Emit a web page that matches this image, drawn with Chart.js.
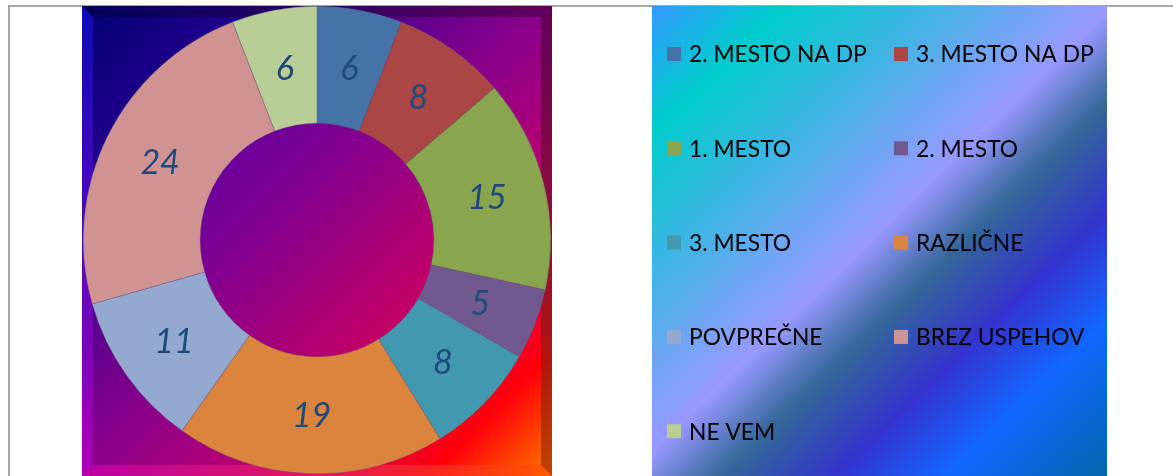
<!DOCTYPE html>
<html>
<head>
<meta charset="utf-8">
<script src="https://cdn.jsdelivr.net/npm/chart.js@4/dist/chart.umd.min.js"></script>
<style>
	body { margin: 0; background: #ffffff; }
	#outline { position: absolute; left: 8px; top: 5px; width: 1180px; height: 480px; box-sizing: border-box;
		border-left: 2px solid #a6a6a6; border-top: 2px solid #a6a6a6; }
	#ranking_chart { position: absolute; left: 0; top: 0; }
</style>
</head>
<body>
<div id="outline"></div>
<canvas id="ranking_chart" width="1173" height="476"></canvas>
<script>
const categories = ['2. MESTO NA DP', '3. MESTO NA DP', '1. MESTO', '2. MESTO', '3. MESTO', 'RAZLIČNE', 'POVPREČNE', 'BREZ USPEHOV', 'NE VEM'];
const answers = [6, 8, 15, 5, 8, 19, 11, 24, 6];
const slice_colors = ['#4572A7', '#AA4643', '#89A54E', '#71588F', '#4198AF', '#DB843D', '#93A9CF', '#D19392', '#B9CD96'];

const LEGEND_BOX = {left: 652, top: 6, right: 1107, bottom: 476};

function drawPlotFrame(chart){
	/*
	Paints the bevelled gradient panel behind the doughnut.
	:param: chart.
	:return: None.
	*/
	const ctx = chart.ctx;
	const a = chart.chartArea;
	var x0 = a.left, y0 = a.top, x1 = a.right, y1 = chart.height;
	var bw = 11;

	ctx.save();
	var g = ctx.createLinearGradient(x0, y0, x1, y1);
	g.addColorStop(0, '#00006e');
	g.addColorStop(0.2, '#240090');
	g.addColorStop(0.5, '#8c008a');
	g.addColorStop(0.72, '#c80068');
	g.addColorStop(0.87, '#ff0008');
	g.addColorStop(1, '#ff7a00');
	ctx.fillStyle = g;
	ctx.fillRect(x0, y0, x1 - x0, y1 - y0);

	// bevel edges
	var edges = [
		{pts: [[x0, y0], [x1, y0], [x1 - bw, y0 + bw], [x0 + bw, y0 + bw]], c0: '#00004c', c1: '#4c0046', dir: 'h'},
		{pts: [[x0, y0], [x0 + bw, y0 + bw], [x0 + bw, y1 - bw], [x0, y1]], c0: '#1212d6', c1: '#c000cc', dir: 'v'},
		{pts: [[x1, y0], [x1, y1], [x1 - bw, y1 - bw], [x1 - bw, y0 + bw]], c0: '#4a0040', c1: '#9a2a00', dir: 'v'},
		{pts: [[x0, y1], [x0 + bw, y1 - bw], [x1 - bw, y1 - bw], [x1, y1]], c0: '#d400b4', c1: '#ff4a00', dir: 'h'}
	];
	for (const e of edges) {
		var eg = e.dir == 'h' ? ctx.createLinearGradient(x0, 0, x1, 0) : ctx.createLinearGradient(0, y0, 0, y1);
		eg.addColorStop(0, e.c0);
		eg.addColorStop(1, e.c1);
		ctx.beginPath();
		ctx.moveTo(e.pts[0][0], e.pts[0][1]);
		for (var i = 1; i < e.pts.length; i++) ctx.lineTo(e.pts[i][0], e.pts[i][1]);
		ctx.closePath();
		ctx.globalAlpha = 0.65;
		ctx.fillStyle = eg;
		ctx.fill();
	}
	ctx.restore();
}

function drawHole(chart){
	/*
	Fills the doughnut hole with its own gradient.
	:param: chart.
	:return: None.
	*/
	const arc = chart.getDatasetMeta(0).data[0];
	if (!arc) return;
	const ctx = chart.ctx;
	var r = arc.innerRadius;
	ctx.save();
	var g = ctx.createLinearGradient(arc.x - r, arc.y - r, arc.x + r, arc.y + r);
	g.addColorStop(0, '#5a00a4');
	g.addColorStop(0.5, '#940084');
	g.addColorStop(1, '#d8005a');
	ctx.fillStyle = g;
	ctx.beginPath();
	ctx.arc(arc.x, arc.y, r + 1, 0, Math.PI * 2);
	ctx.fill();
	ctx.restore();
}

function drawValueLabels(chart){
	/*
	Writes each slice value in the middle of its ring segment.
	:param: chart.
	:return: None.
	*/
	const ctx = chart.ctx;
	const meta = chart.getDatasetMeta(0);
	ctx.save();
	ctx.font = 'italic 34px Lato, "DejaVu Sans", sans-serif';
	ctx.fillStyle = '#1F497D';
	ctx.textAlign = 'center';
	ctx.textBaseline = 'middle';
	meta.data.forEach(function(arc, index){
		const pos = arc.getCenterPoint();
		ctx.fillText(String(chart.data.datasets[0].data[index]), pos.x, pos.y + 1);
	});
	ctx.restore();
}

function drawLegendPanel(chart){
	/*
	Draws the gradient legend panel with two columns of entries.
	:param: chart.
	:return: None.
	*/
	const ctx = chart.ctx;
	var b = LEGEND_BOX;
	ctx.save();
	var g = ctx.createLinearGradient(b.left, b.top, b.right, b.bottom);
	g.addColorStop(0, '#3399ff');
	g.addColorStop(0.14, '#00cccc');
	g.addColorStop(0.3, '#40b4e4');
	g.addColorStop(0.49, '#9999ff');
	g.addColorStop(0.59, '#336699');
	g.addColorStop(0.71, '#3333cc');
	g.addColorStop(0.83, '#1166ff');
	g.addColorStop(1, '#0066aa');
	ctx.fillStyle = g;
	ctx.fillRect(b.left, b.top, b.right - b.left, b.bottom - b.top);

	var col_x = [667, 894];
	var row_y = 54, row_step = 94.3, box = 14;
	ctx.font = '22.8px Lato, "DejaVu Sans", sans-serif';
	ctx.textBaseline = 'middle';
	ctx.textAlign = 'left';
	const labels = chart.data.labels;
	for (var i = 0; i < labels.length; i++) {
		var x = col_x[i % 2];
		var y = row_y + Math.floor(i / 2) * row_step;
		ctx.fillStyle = chart.data.datasets[0].backgroundColor[i];
		ctx.fillRect(x, y - box / 2, box, box);
		ctx.fillStyle = '#000000';
		ctx.fillText(labels[i], x + 22, y + 1);
	}
	ctx.restore();
}

const panelPlugin = {
	id: 'panels',
	beforeDraw: drawPlotFrame,
	beforeDatasetsDraw: drawHole,
	afterDatasetsDraw: drawValueLabels,
	afterDraw: drawLegendPanel
};

const ctx = document.getElementById('ranking_chart').getContext('2d');
const ranking_chart = new Chart(ctx, {
	type: 'doughnut',
	data: {
		labels: categories,
		datasets: [{
			data: answers,
			backgroundColor: slice_colors,
			borderColor: 'rgba(90, 90, 120, 0.55)',
			borderWidth: 0.6,
			hoverOffset: 0
		}]
	},
	options: {
		responsive: false,
		animation: false,
		cutout: '50%',
		layout: {
			padding: {left: 82, right: 621, top: 6, bottom: 2}
		},
		plugins: {
			legend: {
				display: false
			},
			tooltip: {
				enabled: false
			}
		}
	},
	plugins: [panelPlugin]
});
</script>
</body>
</html>
